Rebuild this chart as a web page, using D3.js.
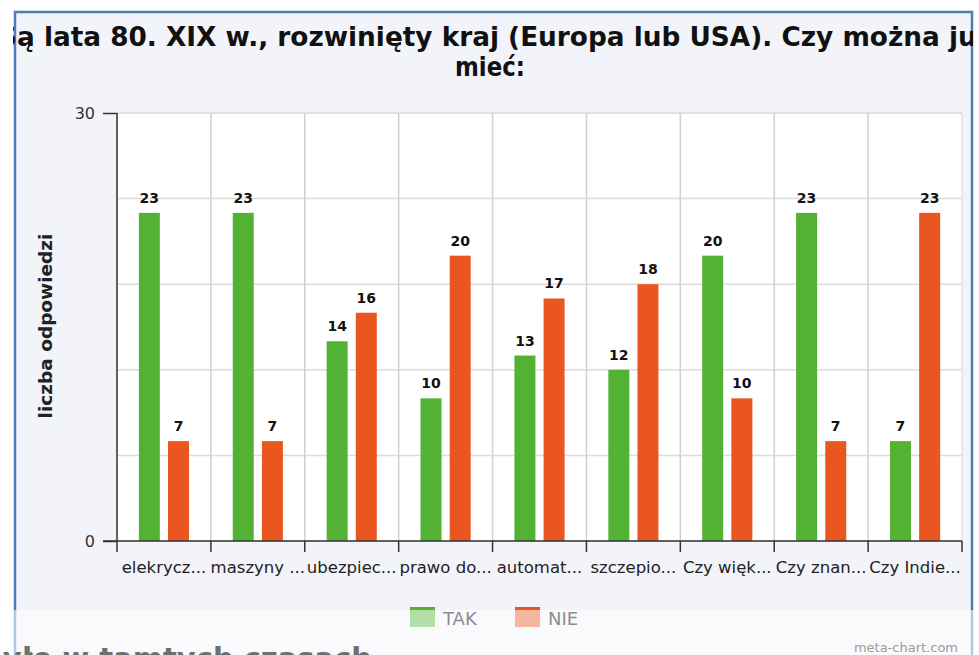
<!DOCTYPE html>
<html>
<head>
<meta charset="utf-8">
<script src="https://cdn.jsdelivr.net/npm/d3@7"></script>
<style>
	body { margin: 0; background: #fff; }
	svg { display: block; }
</style>
</head>
<body>
<script>
// data
const categories = ['elekrycz...', 'maszyny ...', 'ubezpiec...', 'prawo do...', 'automat...', 'szczepio...', 'Czy więk...', 'Czy znan...', 'Czy Indie...']
const seriesNames = ['TAK', 'NIE']
const takValues = [23, 23, 14, 10, 13, 12, 20, 23, 7]
const nieValues = [7, 7, 16, 20, 17, 18, 10, 7, 23]
const yTicks = [0, 30]
const gridValues = [6, 12, 18, 24, 30]
const colors = ['#53b234', '#ea561f']

const W = 979, H = 655
const plotLeft = 117, plotRight = 962, plotTop = 113, plotBottom = 541

const svg = d3.select('body').append('svg')
	.attr('width', W)
	.attr('height', H)
	.style('font-family', 'DejaVu Sans, sans-serif')

//frame
svg.append('rect')
	.attr('x', 15).attr('y', 12)
	.attr('width', 957).attr('height', 720)
	.attr('fill', '#f3f4fa')
	.attr('stroke', '#4d7cb7')
	.attr('stroke-width', 2.5)

svg.append('clipPath').attr('id', 'frameClip')
	.append('rect')
	.attr('x', 13).attr('y', 13)
	.attr('width', 960).attr('height', 700)

//title, cut by the frame like in the original
const title = svg.append('text')
	.attr('clip-path', 'url(#frameClip)')
	.attr('text-anchor', 'middle')
	.style('font-weight', 'bold')
	.style('font-size', '26px')
	.attr('fill', '#111')
title.append('tspan').attr('x', 495).attr('y', 46)
	.attr('textLength', 994).attr('lengthAdjust', 'spacingAndGlyphs')
	.text('Są lata 80. XIX w., rozwinięty kraj (Europa lub USA). Czy można już')
title.append('tspan').attr('x', 490).attr('y', 76)
	.attr('textLength', 70).attr('lengthAdjust', 'spacingAndGlyphs')
	.text('mieć:')

const x = d3.scaleBand().domain(categories).range([plotLeft, plotRight])
const xs = d3.scaleBand().domain(seriesNames).range([0, x.bandwidth()])
	.paddingInner(0.28).paddingOuter(0.75)
const y = d3.scaleLinear().domain([0, 30]).range([plotBottom, plotTop])

//plot area
svg.append('rect')
	.attr('x', plotLeft).attr('y', plotTop)
	.attr('width', plotRight - plotLeft).attr('height', plotBottom - plotTop)
	.attr('fill', '#fff')
	.attr('stroke', '#d6d6d6')

svg.append('g').selectAll('line')
	.data(gridValues)
	.join('line')
	.attr('x1', plotLeft).attr('x2', plotRight)
	.attr('y1', d => y(d)).attr('y2', d => y(d))
	.attr('stroke', '#dcdcdc').attr('stroke-width', 1.5)

const bounds = categories.map(c => x(c)).concat([plotRight])
svg.append('g').selectAll('line')
	.data(bounds.slice(1, -1))
	.join('line')
	.attr('x1', d => d).attr('x2', d => d)
	.attr('y1', plotTop).attr('y2', plotBottom)
	.attr('stroke', '#d0d0d0').attr('stroke-width', 1.5)

//bars
const rows = categories.map((c, i) => ({cat: c, vals: [takValues[i], nieValues[i]]}))
const groups = svg.append('g').selectAll('g')
	.data(rows)
	.join('g')
	.attr('transform', d => 'translate(' + x(d.cat) + ',0)')

groups.selectAll('rect')
	.data(d => d.vals.map((v, j) => ({s: seriesNames[j], v: v, j: j})))
	.join('rect')
	.attr('x', d => xs(d.s))
	.attr('width', xs.bandwidth())
	.attr('y', d => y(d.v))
	.attr('height', d => y(0) - y(d.v))
	.attr('fill', d => colors[d.j])

groups.selectAll('text')
	.data(d => d.vals.map((v, j) => ({s: seriesNames[j], v: v})))
	.join('text')
	.attr('x', d => xs(d.s) + xs.bandwidth() / 2)
	.attr('y', d => y(d.v) - 10)
	.attr('text-anchor', 'middle')
	.style('font-size', '14px')
	.style('font-weight', 'bold')
	.attr('fill', '#111')
	.text(d => d.v)

//y axis
const yAxis = svg.append('g')
	.attr('transform', 'translate(' + plotLeft + ',0)')
	.call(d3.axisLeft(y).tickValues(yTicks).tickSize(14).tickPadding(8).tickFormat(d3.format('d')))
yAxis.select('.domain').attr('stroke', '#333').attr('stroke-width', 1.5).attr('d', 'M0,' + plotTop + 'V' + plotBottom)
yAxis.selectAll('.tick line').attr('stroke', '#333').attr('stroke-width', 1.5)
yAxis.selectAll('.tick text').style('font-size', '16px').style('font-family', 'DejaVu Sans, sans-serif').attr('fill', '#333')

//x axis
svg.append('line')
	.attr('x1', plotLeft - 14).attr('x2', plotRight)
	.attr('y1', plotBottom).attr('y2', plotBottom)
	.attr('stroke', '#333').attr('stroke-width', 1.5)
svg.append('g').selectAll('line')
	.data(bounds)
	.join('line')
	.attr('x1', d => d).attr('x2', d => d)
	.attr('y1', plotBottom).attr('y2', plotBottom + 11)
	.attr('stroke', '#333').attr('stroke-width', 1.5)
svg.append('g').selectAll('text')
	.data(categories)
	.join('text')
	.attr('x', d => x(d) + x.bandwidth() / 2)
	.attr('y', plotBottom + 32)
	.attr('text-anchor', 'middle')
	.style('font-size', '16.5px')
	.attr('fill', '#222')
	.text(d => d)

//y title
svg.append('text')
	.attr('transform', 'translate(52,326) rotate(-90)')
	.attr('text-anchor', 'middle')
	.style('font-size', '18.5px')
	.style('font-weight', 'bold')
	.attr('fill', '#222')
	.text('liczba odpowiedzi')

//legend swatches
const legendX = (d, i) => 410 + i * 105
svg.append('g').selectAll('rect')
	.data(seriesNames)
	.join('rect')
	.attr('x', legendX).attr('y', 607)
	.attr('width', 25).attr('height', 20)
	.attr('fill', (d, i) => colors[i])

//faded band at the bottom of the screenshot
svg.append('rect')
	.attr('x', 0).attr('y', 610)
	.attr('width', W).attr('height', H - 610)
	.attr('fill', '#fff')
	.attr('opacity', 0.57)

svg.append('g').selectAll('text')
	.data(seriesNames)
	.join('text')
	.attr('x', (d, i) => legendX(d, i) + 33).attr('y', 625)
	.style('font-size', '18px')
	.attr('fill', '#8c8c8c')
	.text(d => d)

svg.append('text')
	.attr('x', -18).attr('y', 668)
	.style('font-size', '29px')
	.style('font-weight', 'bold')
	.attr('fill', '#6f6f6f')
	.text('było w tamtych czasach')

svg.append('text')
	.attr('x', 958).attr('y', 652)
	.attr('text-anchor', 'end')
	.style('font-size', '13px')
	.attr('fill', '#9a9a9a')
	.text('meta-chart.com')
</script>
</body>
</html>
